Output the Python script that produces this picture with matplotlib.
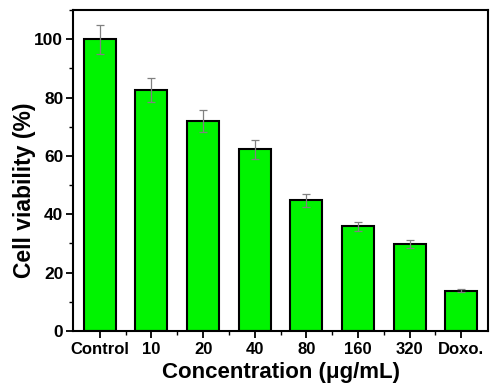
import numpy as np
import matplotlib.pyplot as plt
from matplotlib.ticker import MultipleLocator, FixedLocator

# Data
groups = ['Control', '10', '20', '40', '80', '160', '320', 'Doxo.']
viability = [100, 82.6, 72.0, 62.3, 44.8, 35.9, 29.9, 13.8]
errors = [5.0, 4.2, 3.8, 3.2, 2.2, 1.6, 1.4, 0.6]

plt.rcParams['font.family'] = ['Liberation Sans', 'DejaVu Sans']
plt.rcParams['font.weight'] = 'bold'

fig = plt.figure(figsize=(4.9, 3.84), dpi=100)
ax = fig.add_axes([0.149, 0.138, 0.847, 0.836])

x = np.arange(len(groups))
ax.bar(x, viability, width=0.62, color='#00f400', edgecolor='black', linewidth=1.5, zorder=2)
ax.errorbar(x, viability, yerr=errors, fmt='none', ecolor='#808080', elinewidth=0.9,
            capsize=3, capthick=0.9, zorder=3)

ax.set_xlim(-0.52, 7.52)
ax.set_ylim(0, 110)
ax.set_xticks(x)
ax.set_xticklabels(groups, fontsize=12, fontweight='bold')
ax.xaxis.set_minor_locator(FixedLocator(x[:-1] + 0.5))
ax.yaxis.set_minor_locator(MultipleLocator(10))
ax.set_yticks([0, 20, 40, 60, 80, 100])
ax.tick_params(axis='y', labelsize=12.5, pad=2)
for lab in ax.get_yticklabels():
    lab.set_fontweight('bold')

ax.tick_params(which='major', direction='out', length=5, width=1.3)
ax.tick_params(which='minor', direction='out', length=3, width=1.0)
ax.tick_params(axis='x', pad=3)

for s in ax.spines.values():
    s.set_linewidth(1.5)

ax.set_ylabel('Cell viability (%)', fontsize=16.5, fontweight='bold')
ax.yaxis.set_label_coords(-0.09, 0.44)
ax.set_xlabel('Concentration (\u03bcg/mL)', fontsize=16, fontweight='bold')
ax.xaxis.set_label_coords(0.5, -0.098)

fig.savefig('out.png', dpi=100)
